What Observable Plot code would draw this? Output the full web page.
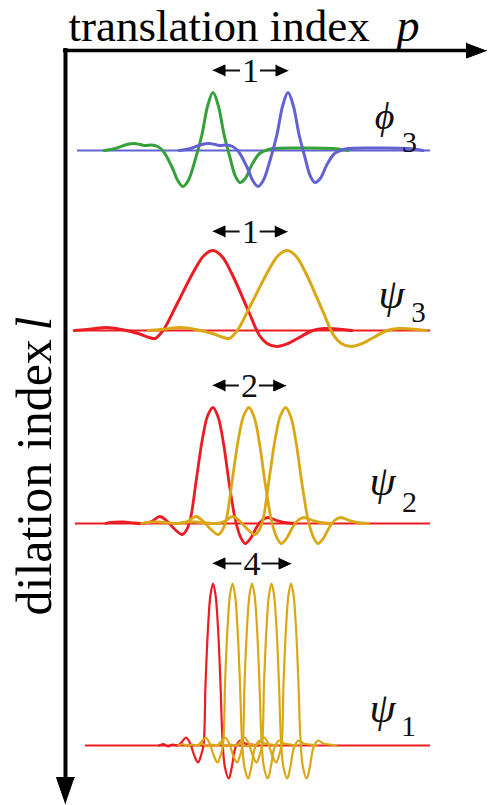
<!DOCTYPE html>
<html><head><meta charset="utf-8">
<script src="https://cdn.jsdelivr.net/npm/d3@7"></script>
<script src="https://cdn.jsdelivr.net/npm/@observablehq/plot@0.6"></script>
<style>html,body{margin:0;padding:0;background:#fff;overflow:hidden}</style>
</head><body><div id="chart"></div>
<script>
// ---------------- data ----------------
// wavelet profiles: [offset in translation units p, amplitude]
const phi3Profile = [[-1.45,0],[-1.30,2],[-1.15,6],[-1.05,7],[-0.97,6],[-0.90,5],[-0.82,5.5],[-0.74,4],[-0.67,0],[-0.55,-16],[-0.47,-30],[-0.40,-36],[-0.33,-30],[-0.24,-10],[-0.15,15],[-0.07,45],[0,58],[0.07,45],[0.15,15],[0.23,-8],[0.30,-26],[0.36,-32],[0.43,-28],[0.52,-14],[0.62,-3],[0.70,0],[0.80,2],[1.2,2.5],[1.6,2],[1.8,0]];
const psi3Profile = [[-1.85,0],[-1.62,1.5],[-1.42,3],[-1.22,1],[-1.0,-3],[-0.85,-7],[-0.77,-8],[-0.71,-4],[-0.64,3],[-0.47,28],[-0.25,60],[-0.12,75],[0,80],[0.12,74],[0.25,57],[0.47,20],[0.62,-5],[0.72,-13],[0.85,-16],[1.0,-13],[1.15,-7],[1.33,0],[1.48,2],[1.65,1.5],[1.85,0]];
const psi2Profile = [[-1.43,0],[-1.37,1],[-1.2,1.5],[-1.05,0.5],[-0.93,0],[-0.82,2],[-0.71,7],[-0.62,3],[-0.52,-5],[-0.41,-11],[-0.35,-6],[-0.30,5],[-0.22,45],[-0.14,85],[-0.07,108],[0,116],[0.07,106],[0.14,80],[0.22,38],[0.30,3],[0.37,-14],[0.43,-20],[0.50,-15],[0.58,-4],[0.65,3],[0.73,6],[0.85,3],[0.95,1],[1.1,0]];
const psi1Profile = [[-0.72,0],[-0.66,1.5],[-0.60,-1],[-0.54,1],[-0.47,0],[-0.41,4],[-0.36,8],[-0.31,3],[-0.25,-10],[-0.2,-17],[-0.16,-10],[-0.127,0],[-0.1,61],[-0.067,117],[-0.033,151],[0,162],[0.033,151],[0.067,117],[0.1,61],[0.127,5],[0.16,-22],[0.21,-33],[0.25,-22],[0.30,-2],[0.36,5],[0.43,2],[0.52,1],[0.60,0]];

// translations drawn at each level (units of p)
const phi3Shifts = [0, 1.0];
const psi3Shifts = [0, 0.99];
const psi2Shifts = [0, 0.48, 0.97];
const psi1Shifts = [0, 0.26, 0.52, 0.78, 1.04];

// labels
const levelSymbols = ["\u03D5", "\u03C8", "\u03C8", "\u03C8"];
const levelSubs = ["3", "3", "2", "1"];
const spanLabels = ["1", "1", "2", "4"];
const axisTitleX = ["translation index", "p"];
const axisTitleY = ["dilation index", "l"];

// ---------------- layout ----------------
const W = 488, H = 805;
const ORIGIN = 212.5, UNIT = 75;           // px of p = 0, px per unit of p
const toP = px => (px - ORIGIN) / UNIT;
const SERIF = "Liberation Serif";
const GREEN = "#36a03a", BLUE = "#6262d2", RED = "#ec1c24", GOLD = "#dba815";

const panels = [
  {profile: phi3Profile, shifts: phi3Shifts, colors: [GREEN, BLUE], base: 150, line: [77, 430], lineColor: BLUE, sw: 3, arrowY: 70,
   sym: [384, 116, 38], sub: [409, 142, 30]},
  {profile: psi3Profile, shifts: psi3Shifts, colors: [RED, GOLD], base: 330, line: [77, 430], lineColor: RED, sw: 3, arrowY: 231,
   sym: [391, 294, 42], sub: [418, 312, 29]},
  {profile: psi2Profile, shifts: psi2Shifts, colors: [RED, GOLD], base: 523, line: [75, 430], lineColor: RED, sw: 2.8, arrowY: 385,
   sym: [382, 481, 42], sub: [409, 502, 30]},
  {profile: psi1Profile, shifts: psi1Shifts, colors: [RED, GOLD], base: 745, line: [85, 430], lineColor: RED, sw: 2.2, arrowY: 563,
   sym: [382, 708, 42], sub: [408, 726, 30]}
];

const tri = (id, tipX, tipY, dx, dy, len, half) => {
  const bx = tipX - dx * len, by = tipY - dy * len;
  const nx = -dy, ny = dx;
  return [
    {id, x: toP(tipX), y: tipY},
    {id, x: toP(bx + nx * half), y: by + ny * half},
    {id, x: toP(bx - nx * half), y: by - ny * half}
  ];
};

const marks = [];
const triangles = [];

panels.forEach((pn, k) => {
  marks.push(Plot.ruleY([{y: pn.base, x1: toP(pn.line[0]), x2: toP(pn.line[1])}],
    {y: "y", x1: "x1", x2: "x2", stroke: pn.lineColor, strokeWidth: 1.8}));
  pn.shifts.forEach((s, i) => {
    const data = pn.profile.map(([p, v]) => ({x: p + s, y: pn.base - v}));
    marks.push(Plot.line(data, {x: "x", y: "y", stroke: i === 0 ? pn.colors[0] : pn.colors[1],
      strokeWidth: pn.sw, curve: "catmull-rom", strokeLinejoin: "round", strokeLinecap: "round"}));
  });
  const a = pn.shifts[0], b = pn.shifts[pn.shifts.length - 1];
  const ax = ORIGIN + a * UNIT, bx = ORIGIN + b * UNIT, mx = (ax + bx) / 2;
  marks.push(Plot.ruleY([{y: pn.arrowY, x1: toP(ax + 6), x2: toP(mx - 10)}, {y: pn.arrowY, x1: toP(mx + 10), x2: toP(bx - 6)}],
    {y: "y", x1: "x1", x2: "x2", stroke: "#111", strokeWidth: 2}));
  triangles.push(...tri("l" + k, ax, pn.arrowY, -1, 0, 12, 5.5));
  triangles.push(...tri("r" + k, bx, pn.arrowY, 1, 0, 12, 5.5));
  marks.push(Plot.text([spanLabels[k]], {x: toP(mx), y: pn.arrowY, text: d => d, fontSize: 34,
    fontFamily: SERIF, fill: "#111", textAnchor: "middle", lineAnchor: "middle", dy: 1}));
  marks.push(Plot.text([levelSymbols[k]], {x: toP(pn.sym[0]), y: pn.sym[1], text: d => d, fontSize: pn.sym[2],
    fontFamily: SERIF, fontStyle: "italic", fill: "#111", textAnchor: "middle"}));
  marks.push(Plot.text([levelSubs[k]], {x: toP(pn.sub[0]), y: pn.sub[1], text: d => d, fontSize: pn.sub[2],
    fontFamily: SERIF, fill: "#111", textAnchor: "middle"}));
});

marks.push(Plot.ruleY([{y: 50, x1: toP(63), x2: toP(470)}], {y: "y", x1: "x1", x2: "x2", stroke: "#000", strokeWidth: 3.5}));
marks.push(Plot.ruleX([{x: toP(65), y1: 48, y2: 780}], {x: "x", y1: "y1", y2: "y2", stroke: "#000", strokeWidth: 4}));
triangles.push(...tri("ax", 486, 50, 1, 0, 20, 7.5));
triangles.push(...tri("ay", 65, 803, 0, 1, 26, 9));
marks.push(Plot.line(triangles, {x: "x", y: "y", z: "id", fill: "#000", stroke: "#000", strokeWidth: 1}));

marks.push(Plot.text([axisTitleX[0]], {x: toP(68), y: 26, text: d => d, fontSize: 45, fontFamily: SERIF,
  fill: "#000", textAnchor: "start"}));
marks.push(Plot.text([axisTitleX[1]], {x: toP(396), y: 26, text: d => d, fontSize: 46, fontFamily: SERIF,
  fontStyle: "italic", fill: "#000", textAnchor: "start"}));
marks.push(Plot.text([axisTitleY[0]], {x: toP(50 - 0.32 * 50), y: 615, text: d => d, fontSize: 50, fontFamily: SERIF,
  fill: "#000", textAnchor: "start", rotate: -90}));
marks.push(Plot.text([axisTitleY[1]], {x: toP(50 - 0.32 * 50), y: 330, text: d => d, fontSize: 50, fontFamily: SERIF,
  fontStyle: "italic", fill: "#000", textAnchor: "start", rotate: -90}));

const chart = Plot.plot({
  width: W, height: H, margin: 0,
  x: {domain: [toP(0), toP(W)], axis: null},
  y: {domain: [0, H], range: [0, H], axis: null},
  style: {background: "#fff", overflow: "visible", fontFamily: SERIF},
  marks
});
document.getElementById("chart").appendChild(chart);
</script>
</body></html>
